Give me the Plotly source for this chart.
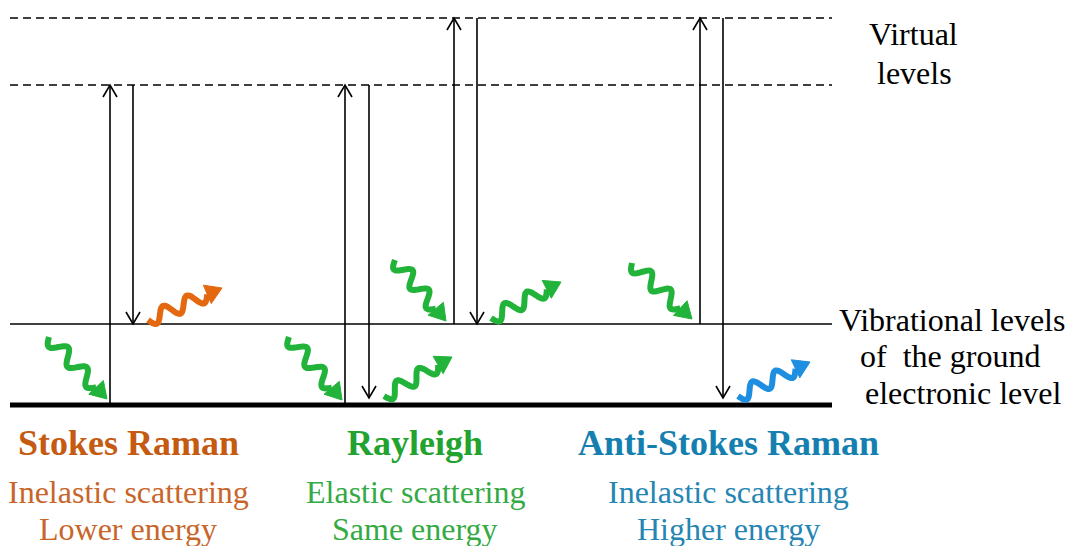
import numpy as np
import plotly.graph_objects as go

# energy levels (pixel rows, top = 0)
level_names = ["virtual_hi", "virtual_lo", "vibrational", "ground"]
level_y = [18, 85, 324, 405]
level_dash = ["8px,5px", "8px,5px", "solid", "solid"]
level_width = [1.5, 1.5, 1.5, 5]
level_x0 = 10
level_x1 = 832

# vertical transitions: x position, from level, to level, where the tip stops
arrow_x = [110, 133, 345, 369, 454, 477, 700, 723]
arrow_from = [405, 85, 405, 85, 324, 18, 324, 18]
arrow_to = [85, 324, 85, 398, 18, 324, 18, 398]

# photons: start, tip, colour
photon_x0 = [49, 148, 289, 384, 395, 491, 632, 738]
photon_y0 = [337, 320, 337, 396, 260, 318, 263, 396]
photon_x1 = [107, 222, 342, 452, 446, 561, 692, 810]
photon_y1 = [399, 288, 400, 357, 321, 282, 319, 362]
photon_col = ["#22B33A", "#E4680F", "#22B33A", "#22B33A",
              "#22B33A", "#22B33A", "#22B33A", "#1E8FE0"]

# labels
right_text = ["Virtual", "levels", "Vibrational levels", "of  the ground", "electronic level"]
right_x = [913, 914, 952, 950, 963]
right_y = [34, 73, 320, 356, 393]

title_text = ["Stokes Raman", "Rayleigh", "Anti-Stokes Raman"]
title_x = [128, 415, 728]
title_col = ["#C55A11", "#22A22E", "#1580B0"]
sub1_text = ["Inelastic scattering", "Elastic scattering", "Inelastic scattering"]
sub2_text = ["Lower energy", "Same energy", "Higher energy"]
sub_col = ["#C8652A", "#34AA45", "#2585B3"]

FONT = "Liberation Serif"

fig = go.Figure()

for y, d, w in zip(level_y, level_dash, level_width):
    fig.add_trace(go.Scatter(x=[level_x0, level_x1], y=[y, y], mode="lines",
                             line=dict(color="black", width=w, dash=d),
                             hoverinfo="skip"))

# vertical arrows with open V heads
for x, y0, y1 in zip(arrow_x, arrow_from, arrow_to):
    s = -1 if y1 < y0 else 1
    hx = [x, x, None, x - 7, x, x + 7]
    hy = [y0, y1, None, y1 - s * 12, y1, y1 - s * 12]
    fig.add_trace(go.Scatter(x=hx, y=hy, mode="lines",
                             line=dict(color="black", width=1.6),
                             hoverinfo="skip"))


def wavy(x0, y0, x1, y1, periods=2.5, amp=7.0, head=16.0, half=10.0):
    dx, dy = x1 - x0, y1 - y0
    L = np.hypot(dx, dy)
    ux, uy = dx / L, dy / L
    nx, ny = -uy, ux
    t = np.linspace(0, L - head, 80)
    off = amp * np.sin(2 * np.pi * periods * t / (L - head))
    wx = x0 + ux * t + nx * off
    wy = y0 + uy * t + ny * off
    bx, by = x0 + ux * (L - head), y0 + uy * (L - head)
    tri_x = [bx + nx * half, x1, bx - nx * half, bx + nx * half]
    tri_y = [by + ny * half, y1, by - ny * half, by + ny * half]
    return wx, wy, tri_x, tri_y


for x0, y0, x1, y1, c in zip(photon_x0, photon_y0, photon_x1, photon_y1, photon_col):
    wx, wy, tx, ty = wavy(x0, y0, x1, y1)
    fig.add_trace(go.Scatter(x=wx, y=wy, mode="lines",
                             line=dict(color=c, width=6, shape="spline"),
                             hoverinfo="skip"))
    fig.add_trace(go.Scatter(x=tx, y=ty, mode="lines", fill="toself",
                             fillcolor=c, line=dict(color=c, width=1),
                             hoverinfo="skip"))

for t, x, y in zip(right_text, right_x, right_y):
    fig.add_annotation(x=x, y=y, text=t, showarrow=False,
                       font=dict(family=FONT, size=32, color="black"))

for i in range(3):
    fig.add_annotation(x=title_x[i], y=443, text="<b>" + title_text[i] + "</b>",
                       showarrow=False,
                       font=dict(family=FONT, size=36, color=title_col[i]))
    fig.add_annotation(x=title_x[i], y=492, text=sub1_text[i], showarrow=False,
                       font=dict(family=FONT, size=32, color=sub_col[i]))
    fig.add_annotation(x=title_x[i], y=529, text=sub2_text[i], showarrow=False,
                       font=dict(family=FONT, size=32, color=sub_col[i]))

fig.update_layout(width=1067, height=546, margin=dict(l=0, r=0, t=0, b=0),
                  paper_bgcolor="white", plot_bgcolor="white", showlegend=False,
                  xaxis=dict(range=[0, 1067], visible=False, fixedrange=True),
                  yaxis=dict(range=[546, 0], visible=False, fixedrange=True))

fig.write_html("out.html", config={"displayModeBar": False},
               post_script="document.body.style.margin='0';document.body.style.overflow='hidden';")
